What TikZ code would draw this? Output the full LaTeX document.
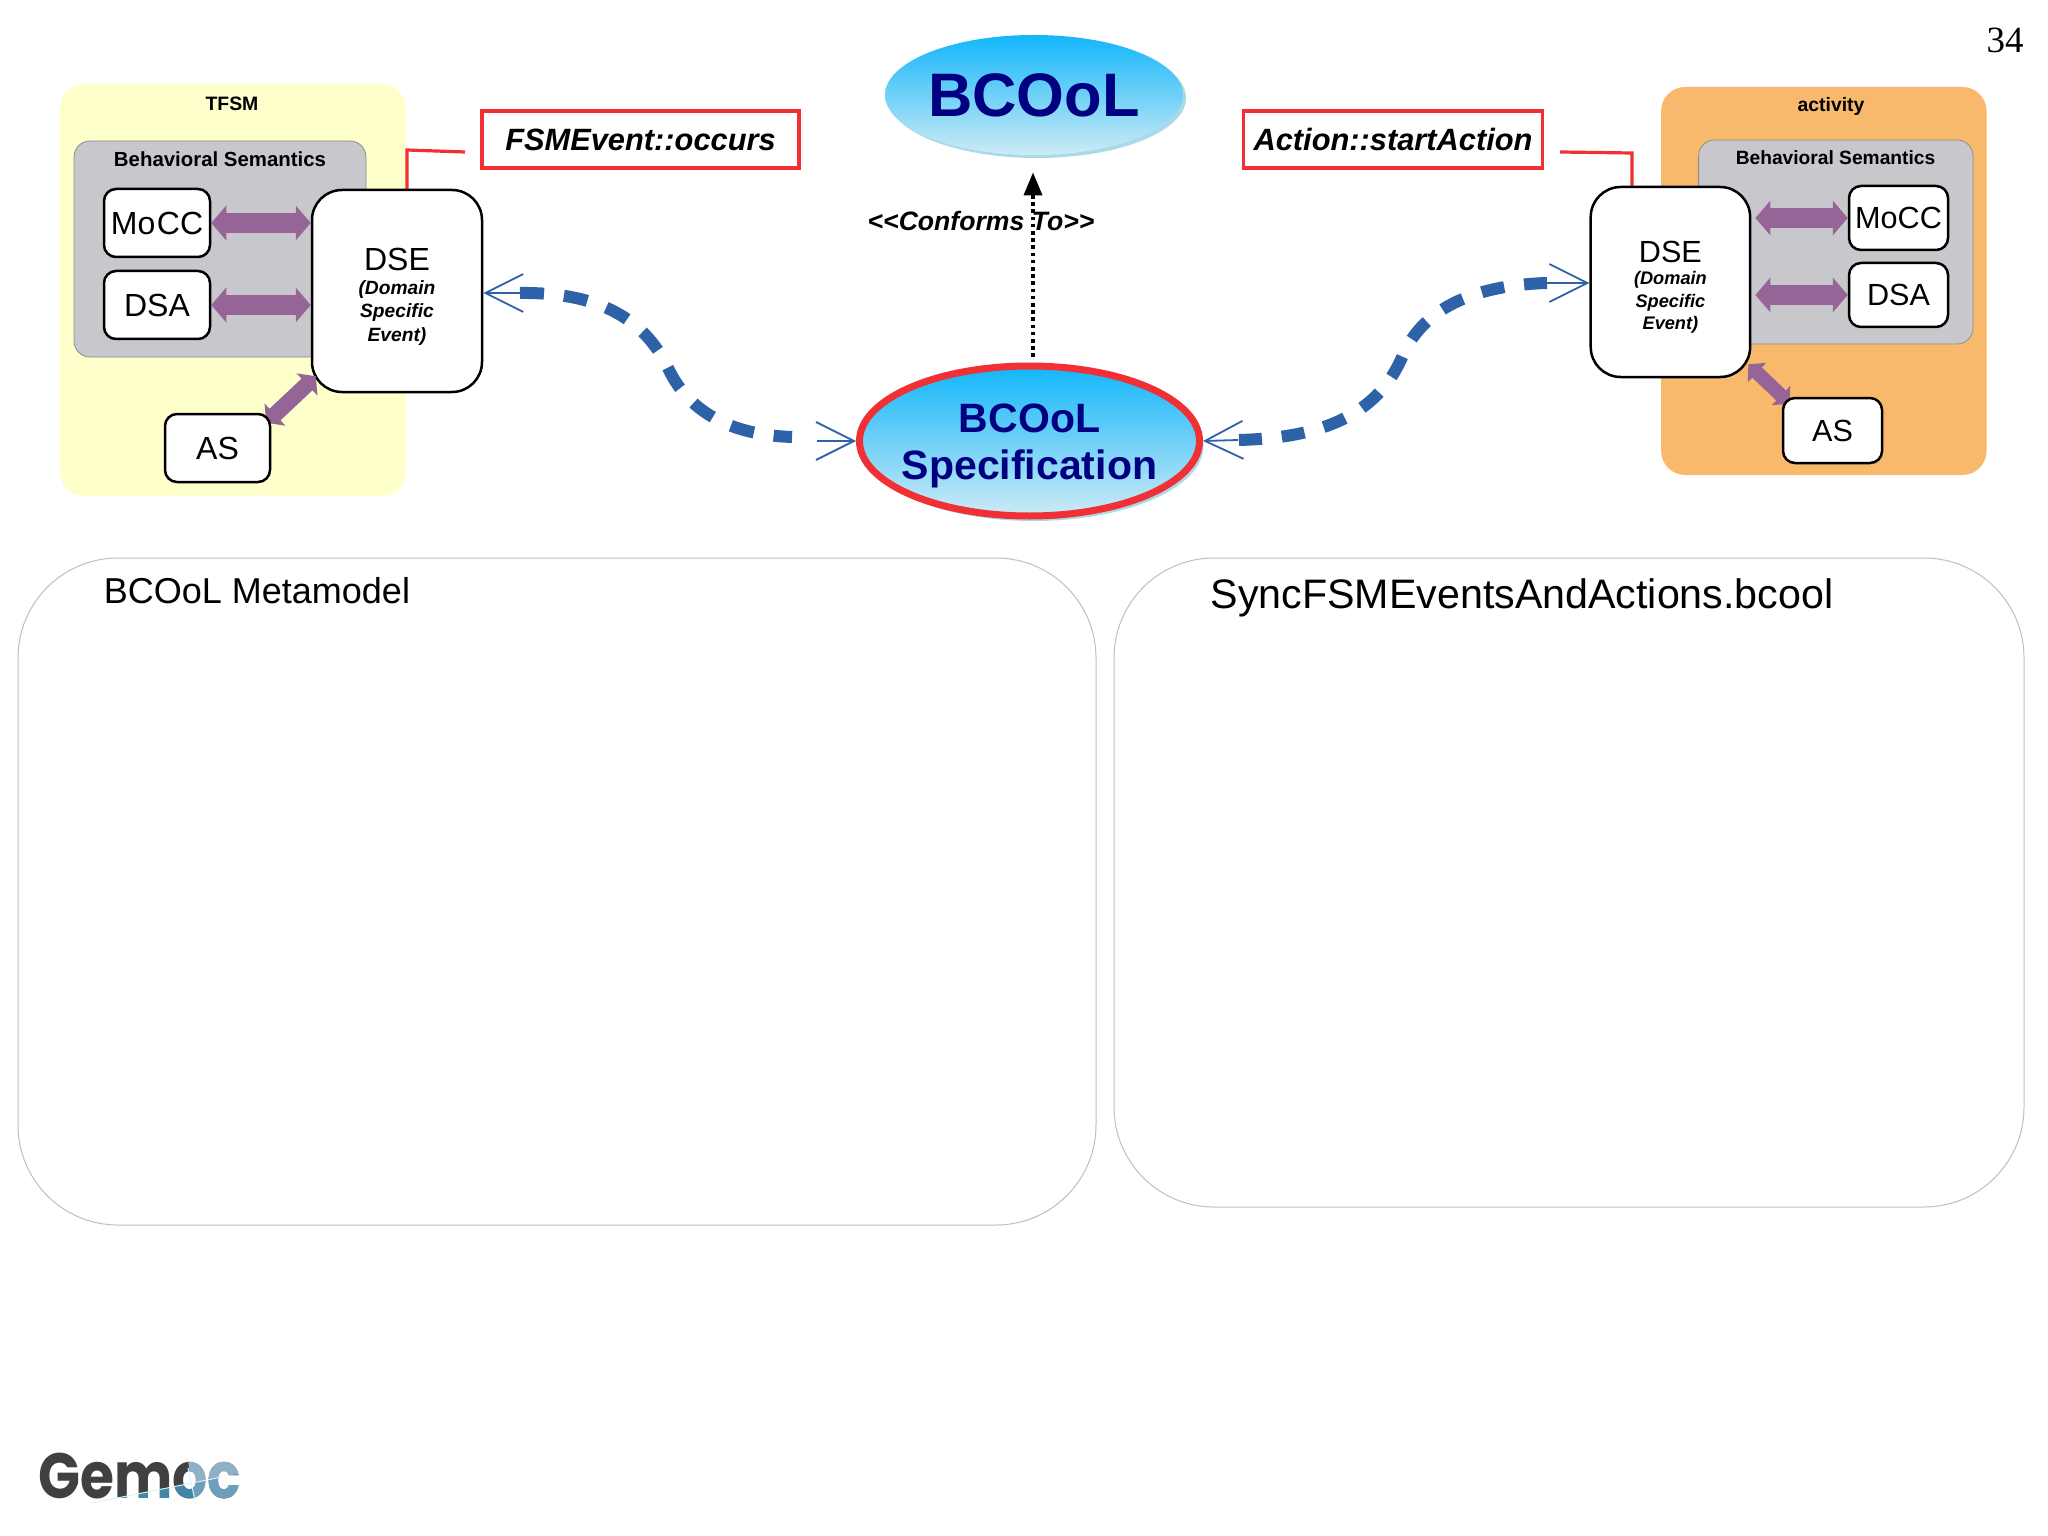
\documentclass[tikz,border=0pt]{standalone}
\usepackage{fontspec}
\setmainfont{Liberation Sans}
\newfontfamily\numfont{Liberation Serif}
\newfontfamily\logofont{Poppins}[FakeStretch=0.86]
\usetikzlibrary{arrows.meta, shapes.geometric, shadows, calc}
\definecolor{PanelYellow}{RGB}{255,255,204}
\definecolor{PanelOrange}{RGB}{249,185,108}
\definecolor{SemGray}{RGB}{200,200,204}
\definecolor{LinkPurple}{RGB}{150,101,152}
\definecolor{FlowBlue}{RGB}{46,98,168}
\definecolor{MarkRed}{RGB}{240,48,52}
\definecolor{TitleNavy}{RGB}{0,0,128}
\definecolor{SkyTop}{RGB}{18,182,250}
\definecolor{SkyBot}{RGB}{205,235,246}
\definecolor{SkyEdge}{RGB}{170,218,232}
\newcommand{\setpt}[2]{\fontsize{#1}{#2}\selectfont}
\pgfdeclarelayer{front}
\pgfsetlayers{main,front}
\tikzset{
  panel/.style={rounded corners=12pt, inner sep=0},
  sem/.style={panel, rounded corners=8pt, fill=SemGray, draw=black!45, line width=.4pt},
  bx/.style={draw=black, fill=white, line width=1.25pt, rounded corners=6pt, inner sep=0, font=\setpt{16}{18}},
  bxr/.style={bx, font=\setpt{15.3}{17}},
  dse/.style={draw=black, fill=white, line width=1.25pt, rounded corners=15pt, inner sep=0, align=center},
  lbl/.style={inner sep=0, font=\setpt{9.7}{11}\bfseries},
  tag/.style={draw=MarkRed, fill=white, line width=1.8pt, inner sep=0, font=\setpt{15.4}{18}\bfseries\itshape},
  redline/.style={draw=MarkRed, line width=1.6pt, line join=miter},
  link/.style={draw=LinkPurple, line width=10pt, {Triangle[length=7.5pt,width=17pt,fill=LinkPurple]}-{Triangle[length=7.5pt,width=17pt,fill=LinkPurple]}},
  linkas/.style={draw=LinkPurple, line width=8pt, {Triangle[length=6pt,width=15pt,fill=LinkPurple]}-{Triangle[length=6pt,width=15pt,fill=LinkPurple]}},
  linkasr/.style={draw=LinkPurple, line width=7pt, {Triangle[length=6pt,width=13pt,fill=LinkPurple]}-{Triangle[length=6pt,width=13pt,fill=LinkPurple]}},
  flow/.style={draw=FlowBlue, line width=6pt, dash pattern=on 12pt off 10pt},
  flowr/.style={flow, dash pattern=on 11.5pt off 10pt},
  flowtip/.style={draw=FlowBlue, line width=.9pt, -{Straight Barb[length=19pt,width=19pt]}},
  sky/.style={ellipse, inner sep=0, align=center, text=TitleNavy, top color=SkyTop, bottom color=SkyBot, font=\bfseries},
  frame/.style={draw=black!25, fill=white, line width=.5pt, rounded corners=50pt, inner sep=0},
  frametxt/.style={inner sep=0},
}
\begin{document}
\begin{tikzpicture}[x=.5pt, y=-.5pt]
\useasboundingbox (0,0) rectangle (2048,1535);
\fill[white] (0,0) rectangle (2048,1535);

% bottom frames
\node[frame, minimum width=539pt, minimum height=333.5pt] (metaframe) at (557,891.5) {};
\node[frame, minimum width=455pt, minimum height=324.5pt] (specframe) at (1569,882.5) {};
\node[frametxt, font=\setpt{18}{20}] (metatxt) at (257,591) {BCOoL Metamodel};
\node[frametxt, font=\setpt{20.6}{23}] (spectxt) at (1522,597.5) {SyncFSMEventsAndActions.bcool};

% page number
\node[inner sep=0, font=\numfont\setpt{18.5}{20}] (pagenum) at (2005,40) {34};

% left panel
\node[panel, fill=PanelYellow, minimum width=173pt, minimum height=206pt] (tfsm) at (233,290) {};
\node[lbl] (tfsmlbl) at (232,104) {TFSM};
\node[sem, minimum width=146pt, minimum height=108pt] (sem1) at (220,249) {};
\node[lbl, font=\setpt{10.2}{12}\bfseries] (sem1lbl) at (220,159) {Behavioral Semantics};
\coordinate (fl1) at (465,152);
\coordinate (fk1) at (407,150);
\node[bx, minimum width=53pt, minimum height=34pt] (mocc1) at (157,223) {Mo\kern.8pt CC};
\node[bx, minimum width=53pt, minimum height=34pt] (dsa1) at (157,305) {DSA};
\begin{pgfonlayer}{front}
\node[bx, minimum width=52.5pt, minimum height=34pt] (as1) at (217.5,448) {AS};
\end{pgfonlayer}
\draw[redline] (fl1) -- (fk1) -- (fk1 |- 0,190);
\node[dse, minimum width=85pt, minimum height=101pt, font=\setpt{9.6}{11.8}\bfseries\itshape] (dse1) at (397,291)
  {\rule{0pt}{17pt}{\setpt{16}{17}\mdseries\upshape DSE}\\(Domain\\Specific\\Event)};
\draw[link] (mocc1.east) -- (mocc1.east -| dse1.west);
\draw[link] (dsa1.east) -- (dsa1.east -| dse1.west);
\draw[linkas] ($(as1.north east)+(-5,10)$) -- ($(dse1.south west)+(5,-17)$);
\node[tag, minimum width=158.5pt, minimum height=28.5pt] (fsmtag) at (640.5,139.5) {FSMEvent::occurs};

% centre
\node[sky, text width=80pt, minimum width=149pt, minimum height=60pt, font=\setpt{30.7}{32}\bfseries,
      copy shadow={shadow xshift=1.5pt, shadow yshift=-1.5pt, fill=SkyEdge, draw=none}] (bcool) at (1034,95) {\makebox[0pt]{BCOoL}};
\node[sky, text width=100pt, draw=MarkRed, line width=3.5pt, minimum width=170pt, minimum height=75pt, font=\setpt{20.5}{23.5}\bfseries,
      copy shadow={shadow xshift=2pt, shadow yshift=-2.5pt, fill=SkyEdge, draw=none}] (spec) at (1029.5,441) {\rule{0pt}{19.5pt}\makebox[0pt]{BCOoL}\\\makebox[0pt]{Specification}};
\coordinate (cfs) at (1033,357);
\draw[draw=black, line width=1.8pt, dash pattern=on 1.8pt off 1.8pt, -{Triangle[length=11.5pt,width=9pt]}, shorten >=8.5pt] (cfs) -- (cfs |- bcool.south);
\node[inner sep=0, font=\setpt{13.3}{15}\bfseries\itshape] (conf) at (981,221) {<{}<Conforms To>{}>};

% right panel
\node[panel, fill=PanelOrange, minimum width=162.7pt, minimum height=194pt] (act) at (1823.8,281) {};
\node[lbl] (actlbl) at (1831,106) {activity};
\node[sem, minimum width=137.2pt, minimum height=102pt] (sem2) at (1835.8,242) {};
\node[lbl, font=\setpt{9.6}{11}\bfseries] (sem2lbl) at (1835.5,158) {Behavioral Semantics};
\coordinate (fl2) at (1560,152);
\coordinate (fk2) at (1632,153);
\node[bxr, minimum width=49.5pt, minimum height=32pt] (mocc2) at (1898.5,218) {MoCC};
\node[bxr, minimum width=49.5pt, minimum height=32pt] (dsa2) at (1898.5,295) {DSA};
\begin{pgfonlayer}{front}
\node[bxr, minimum width=49.5pt, minimum height=32.5pt] (as2) at (1832.5,430.5) {AS};
\end{pgfonlayer}
\draw[redline] (fl2) -- (fk2) -- (fk2 |- 0,187);
\node[dse, minimum width=79.7pt, minimum height=95pt, font=\setpt{9.1}{11.2}\bfseries\itshape] (dse2) at (1670.4,282)
  {\rule{0pt}{16pt}{\setpt{15.3}{16}\mdseries\upshape DSE}\\(Domain\\Specific\\Event)};
\draw[link, shorten >=2pt] (mocc2.west) -- (mocc2.west -| dse2.east);
\draw[link, shorten >=2pt] (dsa2.west) -- (dsa2.west -| dse2.east);
\draw[linkasr] ($(as2.north west)+(8,7)$) -- ($(dse2.south east)+(-3,-14)$);
\node[tag, minimum width=149.5pt, minimum height=28.5pt] (acttag) at (1393,139.5) {Action::startAction};

% blue flows
\coordinate (fa1) at (520,293);
\coordinate (fa2) at (668,368);
\coordinate (fa3) at (792,437);
\coordinate (ta3) at (817,441);
\coordinate (fb1) at (1547,283);
\coordinate (fb2) at (1403,355);
\coordinate (fb3) at (1238,440);
\draw[flow] (fa1) .. controls (600,292) and (645,320) .. (fa2) .. controls (690,415) and (735,435) .. (fa3);
\draw[flowr] (fb1) .. controls (1480,285) and (1425,305) .. (fb2) .. controls (1380,410) and (1330,438) .. (fb3);
\draw[flowtip] (fa1) -- (dse1.east |- fa1);
\draw[flowtip] (ta3) -- (spec.west);
\draw[flowtip] (fb1) -- (dse2.west |- fb1);
\draw[flowtip] (fb3) -- (spec.east);

% logo
\node[anchor=base west, inner sep=0, text=black!75, font=\logofont\setpt{32}{34}\bfseries] (logo) at (38,1498) {Gemoc};
\begin{scope}[blend mode=lighten]
\fill[fill={rgb,255:red,143;green,176;blue,198}] (188,1460) -- (245,1460) -- (245,1472.4) -- (191,1483) -- cycle;
\fill[fill={rgb,255:red,106;green,159;blue,189}] (191,1483) -- (245,1472.4) -- (245,1512) -- (196,1512) -- cycle;
\fill[fill={rgb,255:red,63;green,134;blue,168}] (90,1503.4) -- (191,1483) -- (196,1512) -- (90,1512) -- cycle;
\end{scope}
\draw[white!85!cyan, line width=.5pt] (92,1503) -- (222,1477);
\draw[white!85!cyan, line width=.5pt] (188,1468) -- (196,1505);
\end{tikzpicture}
\end{document}
